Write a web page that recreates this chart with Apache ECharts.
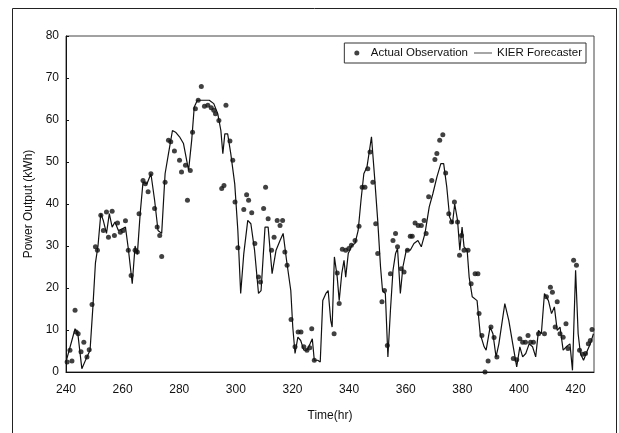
<!DOCTYPE html>
<html>
<head>
<meta charset="utf-8">
<script src="https://cdn.jsdelivr.net/npm/echarts@6/dist/echarts.min.js"></script>
<style>
  html, body { margin: 0; padding: 0; background: #fff; }
  #chart { width: 619px; height: 433px; }
</style>
</head>
<body>
<div id="chart"></div>
<script>
// Actual observation (scatter)
const obsTime = [240.4, 241.4, 242.1, 243.2, 243.6, 244.3, 245.3, 246.3, 247.4, 248.2, 249.2, 250.4, 251.1, 252.3, 253.2, 254.3, 255, 256.3, 257.1, 258.2, 259.2, 260.2, 261, 262, 263, 264.4, 265.2, 265.8, 267.2, 268, 269, 270, 271.3, 272.2, 273.1, 273.8, 275, 276.2, 277, 278.3, 280.1, 280.8, 282.2, 282.9, 283.9, 284.7, 285.7, 286.7, 287.8, 288.9, 290.1, 291.3, 292.2, 292.8, 294, 295, 295.8, 296.5, 297.9, 298.9, 299.7, 300.7, 302.8, 303.8, 304.5, 305.6, 306.7, 308, 308.7, 309.8, 310.5, 311.4, 312.6, 313.5, 314.6, 315.6, 316.5, 317.3, 318.1, 319.5, 320.9, 322, 323, 324, 325.1, 326.1, 326.8, 327.7, 334.7, 335.8, 336.5, 337.6, 338.8, 339.9, 340.8, 342.1, 343.5, 344.6, 345.6, 346.6, 347.4, 348.4, 349.4, 350.1, 351.6, 352.5, 353.5, 354.6, 355.5, 356.4, 357.1, 358.4, 359.4, 360.6, 361.6, 362.3, 363.3, 364.4, 365.5, 366.5, 367.2, 368.1, 369.2, 370.3, 371, 372, 373.1, 374.1, 375.2, 376.2, 377.2, 378.3, 379, 379.7, 380.6, 382, 383.1, 384.5, 385.5, 385.9, 386.9, 388, 389.1, 390.1, 391.2, 392.2, 398, 399.2, 400.3, 401.3, 402.3, 403.2, 404.1, 405.1, 406.9, 409, 409.7, 411.1, 411.8, 412.8, 413.5, 414.5, 415.6, 416.6, 417.3, 419.3, 420.3, 421.4, 422.5, 423.5, 424.5, 425.2, 425.8]
const obsPower = [2.4, 5.2, 2.6, 14.7, 9.5, 9.1, 4.8, 7.1, 3.6, 5.3, 16.1, 29.8, 29, 37.3, 33.7, 38.1, 32.1, 38.3, 32.5, 35.5, 33.3, 33.7, 36, 29, 23, 29, 28.6, 37.7, 45.6, 44.8, 42.9, 47.2, 38.9, 34.5, 32.5, 27.5, 45.2, 55.2, 54.8, 52.6, 50.4, 47.6, 49.2, 40.9, 48, 57.1, 62.7, 64.7, 68, 63.3, 63.5, 62.9, 62.3, 61.5, 59.9, 43.7, 44.4, 63.5, 55, 50.4, 40.5, 29.6, 38.7, 42.2, 40.9, 37.9, 30.6, 22.6, 21.4, 38.9, 44, 36.5, 29, 32.1, 36.1, 34.9, 36.1, 28.6, 25.4, 12.5, 6, 9.5, 9.5, 6, 5.2, 5.8, 10.3, 2.8, 9.1, 23.6, 16.3, 29.2, 29, 29.4, 30.2, 31.3, 34.7, 44, 44, 48.4, 52.4, 45.2, 35.3, 28.2, 16.7, 19.4, 6.3, 23.4, 31.3, 33, 29.8, 24.6, 23.8, 29, 32.3, 32.3, 35.5, 34.9, 34.9, 36.1, 33, 41.7, 45.6, 50.6, 52, 55.2, 56.5, 47.4, 37.7, 35.7, 40.5, 35.7, 27.8, 32.5, 29, 29, 21, 23.4, 23.4, 13.9, 8.7, 0, 2.6, 10.7, 8.2, 3.6, 3.2, 2.9, 7.9, 7.1, 7.1, 8.7, 7.1, 7.1, 9.1, 9.1, 17.9, 20.2, 19, 10.7, 16.7, 9.1, 8.3, 11.5, 5.6, 26.6, 25.4, 5.2, 4.2, 4.4, 6.7, 7.5, 10.1]

// KIER forecaster (line)
const fcTime = [240, 243.2, 244.2, 245.6, 247.4, 248.5, 249.5, 250.4, 251.3, 252.3, 253.2, 254.3, 255.3, 256.3, 257.3, 258.5, 259.9, 261, 262, 263.4, 264.4, 265.2, 266.2, 267.2, 268.6, 270, 271.3, 272.5, 273.8, 275, 276.2, 277.6, 278.7, 280.1, 281.5, 282.2, 283.3, 284.4, 285.3, 286.4, 287.8, 290.6, 292.2, 293.6, 294.7, 295.4, 296.1, 297.1, 298.2, 299.6, 300.7, 301.7, 302.8, 304.2, 305.3, 306.6, 308, 308.9, 310.3, 311.4, 312.8, 314.2, 315.6, 316.7, 317.9, 319.4, 320.1, 320.9, 321.9, 322.9, 324, 325.1, 326.2, 327, 327.7, 328.9, 329.8, 330.7, 331.8, 332.6, 333.5, 334, 334.8, 335.8, 336.5, 337.4, 338.2, 338.8, 339.7, 341, 342.1, 343.2, 344.2, 345.2, 346.3, 347.2, 347.9, 349, 350.1, 351.1, 351.8, 352.8, 353.7, 354.6, 355.5, 356.4, 357.1, 358.1, 359, 360.2, 361.6, 362.9, 364.3, 365.5, 366.8, 368.3, 369.6, 371, 372.4, 373.4, 374.5, 375.5, 376.5, 377.3, 378.3, 379.1, 379.9, 380.6, 381.7, 382.4, 383.5, 385.2, 386.3, 387.7, 388.4, 389.8, 390.8, 391.9, 392.9, 395, 396.4, 397.8, 399.2, 400.3, 401.3, 402.4, 403.6, 404.8, 405.9, 406.9, 407.9, 409, 410.4, 411.5, 412.5, 413.5, 414.5, 415.6, 416.7, 418, 418.9, 420, 420.9, 421.7, 422.8, 424.2, 425.2, 426.3]
const fcPower = [2.4, 10.3, 9, 0.8, 3.6, 5.2, 15.5, 26, 30, 37.7, 36, 33, 37.7, 34.5, 35.7, 33.7, 34.1, 34.5, 29.4, 21, 30, 28, 37.7, 45.2, 44.8, 47.2, 40.9, 33.7, 33, 47.2, 52, 57.5, 57.1, 56, 54.4, 54.8, 48, 55.2, 63.1, 64.7, 64.7, 64.7, 63.9, 61.5, 57.5, 52, 56.7, 56.7, 52, 44.8, 33.7, 18.7, 28.2, 36.1, 35.3, 29, 18.7, 19.4, 34.5, 34.5, 23.4, 29, 31.3, 33, 26.6, 19.4, 10.7, 4.4, 8.3, 7.5, 5.2, 5.2, 6.7, 7.9, 2.8, 2.8, 2.4, 17, 18.7, 19.4, 12.3, 10.7, 27.4, 22.6, 17, 23.4, 26.6, 22.6, 28.2, 30.2, 30.6, 33.7, 40.9, 47.2, 48.8, 52.8, 56, 46.4, 36.1, 25, 19.4, 18.7, 3.6, 14.7, 24.2, 28.2, 29.4, 18.7, 25, 29, 29, 30.6, 31.3, 29.8, 33, 39.3, 42.5, 46.4, 49.6, 49.6, 44, 36.9, 35.3, 40, 36.1, 29, 34.5, 29.8, 29, 22.6, 17.9, 17, 9.1, 6, 5.2, 10.7, 9.1, 3.6, 6.7, 16.3, 12.3, 6.7, 1.2, 6, 3.6, 4.4, 6.7, 6, 3.6, 9.9, 9.1, 18.7, 17, 13.9, 15.5, 9.9, 10.7, 5.2, 6, 6.7, 0.4, 24.2, 9.1, 4.4, 2.8, 5.2, 6.7, 9.1]

const yTicks = [0, 10, 20, 30, 40, 50, 60, 70, 80]

const fontFam = '"Liberation Sans Narrow", "Liberation Sans", Arial, sans-serif'

let chart = echarts.init(document.getElementById('chart'), null, { renderer: 'canvas' })
chart.setOption({
  backgroundColor: '#fff',
  animation: false,
  textStyle: { fontFamily: fontFam, color: '#111' },
  graphic: [
    {
      type: 'rect',
      shape: { x: 12.5, y: 8.5, width: 604, height: 440 },
      style: { fill: 'none', stroke: '#222', lineWidth: 1 },
      silent: true
    }
  ],
  grid: {
    left: 66,
    right: 25,
    top: 36,
    bottom: 61,
    show: true,
    borderColor: '#444',
    borderWidth: 1
  },
  legend: {
    right: 33,
    top: 43,
    padding: [4, 4, 4, 10],
    itemGap: 6,
    itemWidth: 18,
    itemHeight: 5,
    borderColor: '#333',
    borderWidth: 1,
    backgroundColor: '#fff',
    textStyle: { fontFamily: fontFam, fontSize: 11.5, color: '#111' },
    data: [
      { name: 'Actual Observation', icon: 'circle', itemStyle: { color: '#111' } },
      { name: 'KIER Forecaster', icon: 'path://M0,0H24V1H0Z', itemStyle: { color: '#111' } }
    ]
  },
  xAxis: {
    type: 'value',
    min: 240,
    max: 426.5,
    interval: 20,
    name: 'Time(hr)',
    nameLocation: 'middle',
    nameGap: 38,
    nameTextStyle: { fontFamily: fontFam, fontSize: 12, color: '#111' },
    axisLine: { lineStyle: { color: '#111', width: 1 } },
    axisTick: { show: false },
    axisLabel: { fontFamily: fontFam, fontSize: 12, color: '#111', margin: 12,
      formatter: v => (v % 20 === 0 ? String(v) : '') },
    splitLine: { show: false }
  },
  yAxis: {
    type: 'value',
    min: yTicks[0],
    max: yTicks[yTicks.length - 1],
    interval: 10,
    name: 'Power Output (kWh)',
    nameLocation: 'middle',
    nameGap: 28,
    nameTextStyle: { fontFamily: fontFam, fontSize: 12, color: '#111' },
    axisLine: { show: true, lineStyle: { color: '#111', width: 1 } },
    axisTick: { show: true, inside: true, length: 3, lineStyle: { color: '#111' } },
    axisLabel: { fontFamily: fontFam, fontSize: 12, color: '#111', margin: 7 },
    splitLine: { show: false }
  },
  series: [
    {
      name: 'Actual Observation',
      type: 'scatter',
      symbol: 'circle',
      symbolSize: 5,
      itemStyle: { color: '#111' },
      data: obsTime.map((t, i) => [t, obsPower[i]]),
      z: 3
    },
    {
      name: 'KIER Forecaster',
      type: 'line',
      showSymbol: false,
      symbol: 'none',
      lineStyle: { color: '#111', width: 1.2 },
      itemStyle: { color: '#111' },
      data: fcTime.map((t, i) => [t, fcPower[i]]),
      z: 2
    }
  ]
})

window.addEventListener('resize', () => {
  chart.resize()
})
</script>
</body>
</html>
